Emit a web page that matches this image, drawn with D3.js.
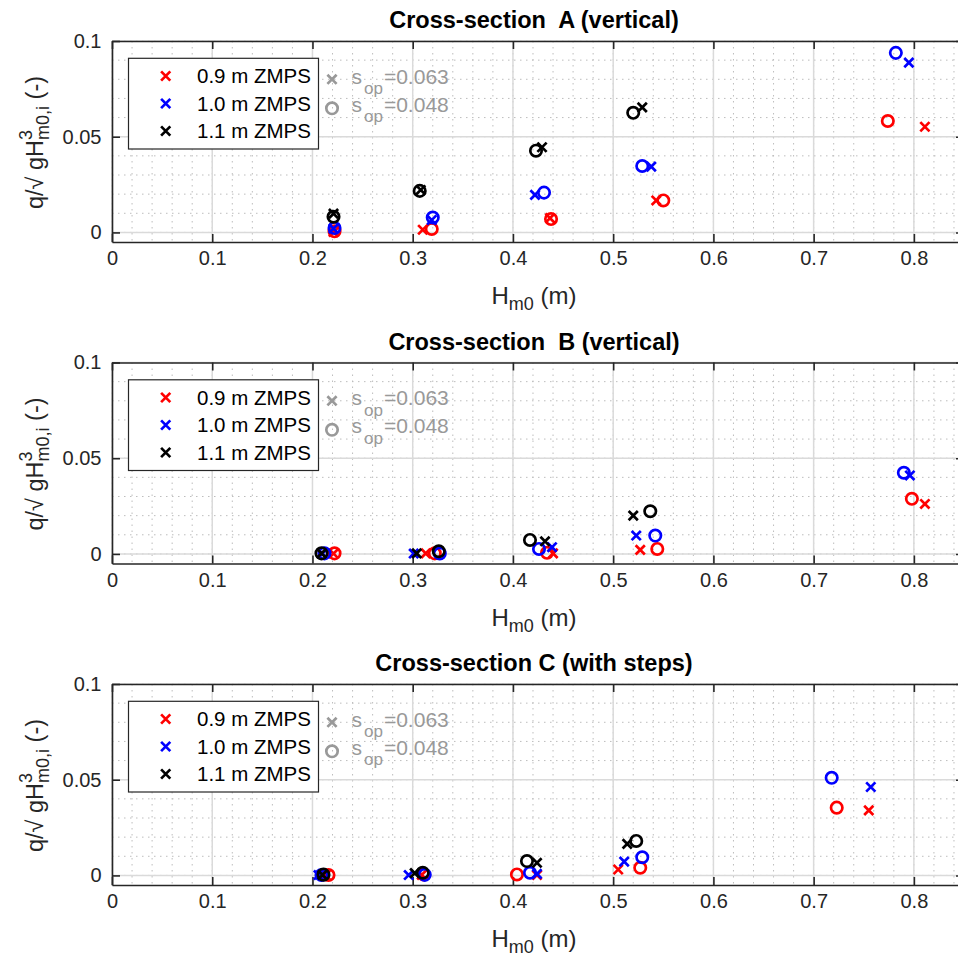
<!DOCTYPE html>
<html>
<head>
<meta charset="utf-8">
<script src="https://cdn.jsdelivr.net/npm/d3@7"></script>
<style>
body { margin: 0; background: #fff; }
text { font-family: "Liberation Sans", Arial, sans-serif; white-space: pre; }
</style>
</head>
<body>
<svg id="chart" width="958" height="960"></svg>
<script>
var panelTitles = ["Cross-section  A (vertical)", "Cross-section  B (vertical)", "Cross-section C (with steps)"];
var seriesNames = ["0.9 m ZMPS", "1.0 m ZMPS", "1.1 m ZMPS"];
var sopLabels = ["0.063", "0.048"];

var xTicks = [0, 0.1, 0.2, 0.3, 0.4, 0.5, 0.6, 0.7, 0.8];
var xTickLabels = ["0", "0.1", "0.2", "0.3", "0.4", "0.5", "0.6", "0.7", "0.8"];
var yTicks = [0, 0.05, 0.1];
var yTickLabels = ["0", "0.05", "0.1"];

// [Hm0 (m), q/sqrt(gHm0^3)] ; X = sop 0.063, O = sop 0.048
var aRedX   = [[0.221, 0.0002], [0.310, 0.0014], [0.437, 0.0075], [0.543, 0.0167], [0.811, 0.0552]];
var aRedO   = [[0.222, 0.0006], [0.319, 0.0018], [0.438, 0.0070], [0.550, 0.0167], [0.774, 0.0582]];
var aBlueX  = [[0.221, 0.0020], [0.319, 0.0065], [0.422, 0.0196], [0.538, 0.0344], [0.795, 0.0887]];
var aBlueO  = [[0.222, 0.0023], [0.320, 0.0078], [0.431, 0.0208], [0.529, 0.0347], [0.782, 0.0938]];
var aBlackX = [[0.221, 0.0098], [0.308, 0.0222], [0.429, 0.0445], [0.529, 0.0653]];
var aBlackO = [[0.221, 0.0082], [0.307, 0.0217], [0.423, 0.0427], [0.520, 0.0625]];

var bRedX   = [[0.221, 0.0002], [0.313, 0.0003], [0.440, 0.0003], [0.527, 0.0021], [0.811, 0.0261]];
var bRedO   = [[0.222, 0.0003], [0.322, 0.0003], [0.434, 0.0006], [0.544, 0.0026], [0.798, 0.0288]];
var bBlueX  = [[0.210, 0.0002], [0.301, 0.0002], [0.439, 0.0035], [0.523, 0.0096], [0.796, 0.0410]];
var bBlueO  = [[0.212, 0.0003], [0.327, 0.0002], [0.426, 0.0026], [0.542, 0.0096], [0.790, 0.0424]];
var bBlackX = [[0.209, 0.0003], [0.304, 0.0003], [0.432, 0.0066], [0.520, 0.0200]];
var bBlackO = [[0.209, 0.0003], [0.326, 0.0014], [0.417, 0.0073], [0.537, 0.0223]];

var cRedX   = [[0.213, 0.0002], [0.309, 0.0003], [0.424, 0.0002], [0.505, 0.0031], [0.755, 0.0340]];
var cRedO   = [[0.216, 0.0002], [0.311, 0.0005], [0.404, 0.0005], [0.527, 0.0040], [0.723, 0.0354]];
var cBlueX  = [[0.206, 0.0002], [0.296, 0.0002], [0.424, 0.0008], [0.511, 0.0072], [0.757, 0.0462]];
var cBlueO  = [[0.209, 0.0002], [0.312, 0.0003], [0.417, 0.0014], [0.529, 0.0095], [0.718, 0.0510]];
var cBlackX = [[0.210, 0.0003], [0.302, 0.0012], [0.424, 0.0066], [0.514, 0.0165]];
var cBlackO = [[0.211, 0.0004], [0.310, 0.0014], [0.414, 0.0075], [0.523, 0.0180]];

var panels = [
    [[aRedX, aRedO], [aBlueX, aBlueO], [aBlackX, aBlackO]],
    [[bRedX, bRedO], [bBlueX, bBlueO], [bBlackX, bBlackO]],
    [[cRedX, cRedO], [cBlueX, cBlueO], [cBlackX, cBlackO]]
];

var colors = ["#ff0000", "#0000ff", "#000000"];
var axisColor = "#262626";

var svg = d3.select("#chart"),
    left = 112,
    width = 852,
    height = 201,
    tops = [41, 362.5, 684];

var x = d3.scaleLinear().domain([0, 0.85]).range([0, width]);
var y = d3.scaleLinear().domain([-0.005, 0.1]).range([height, 0]);

var xMinor = d3.range(0, 43).map(function(i) { return i * 0.02; });
var yMinor = d3.range(0, 11).map(function(i) { return i * 0.01; });

var xPath = "M-4.6,-4.6L4.6,4.6M-4.6,4.6L4.6,-4.6";

function drawMarkers(g, pts, color, isCircle) {
    var sel = g.selectAll(null).data(pts).enter();
    if (isCircle) {
        sel.append("circle")
            .attr("cx", function(d) { return x(d[0]); })
            .attr("cy", function(d) { return y(d[1]); })
            .attr("r", 5.7)
            .attr("fill", "none")
            .attr("stroke", color)
            .attr("stroke-width", 2.7);
    } else {
        sel.append("path")
            .attr("d", xPath)
            .attr("transform", function(d) { return "translate(" + x(d[0]) + "," + y(d[1]) + ")"; })
            .attr("fill", "none")
            .attr("stroke", color)
            .attr("stroke-width", 2.7);
    }
}

panels.forEach(function(series, p) {
    var g = svg.append("g").attr("transform", "translate(" + left + "," + tops[p] + ")");

    // minor grid
    g.selectAll(".xminor").data(xMinor).enter().append("line")
        .attr("x1", function(d) { return x(d); }).attr("x2", function(d) { return x(d); })
        .attr("y1", 0).attr("y2", height)
        .attr("stroke", "#bdbdbd").attr("stroke-width", 1).attr("stroke-dasharray", "1.5,4.5");
    g.selectAll(".yminor").data(yMinor).enter().append("line")
        .attr("x1", 0).attr("x2", width)
        .attr("y1", function(d) { return y(d); }).attr("y2", function(d) { return y(d); })
        .attr("stroke", "#bdbdbd").attr("stroke-width", 1).attr("stroke-dasharray", "1.5,4.5");

    // major grid
    g.selectAll(".xmajor").data(xTicks).enter().append("line")
        .attr("x1", function(d) { return x(d); }).attr("x2", function(d) { return x(d); })
        .attr("y1", 0).attr("y2", height)
        .attr("stroke", "#dadada").attr("stroke-width", 1.5);
    g.selectAll(".ymajor").data(yTicks).enter().append("line")
        .attr("x1", 0).attr("x2", width)
        .attr("y1", function(d) { return y(d); }).attr("y2", function(d) { return y(d); })
        .attr("stroke", "#dadada").attr("stroke-width", 1.5);

    // axes, box with inward ticks
    var bottom = g.append("g").attr("transform", "translate(0," + height + ")")
        .call(d3.axisBottom(x).tickValues(xTicks).tickSizeInner(-8).tickSizeOuter(0).tickPadding(9)
            .tickFormat(function(d, i) { return xTickLabels[i]; }));
    var top = g.append("g")
        .call(d3.axisTop(x).tickValues(xTicks).tickSizeInner(-8).tickSizeOuter(0).tickFormat(""));
    var leftAx = g.append("g")
        .call(d3.axisLeft(y).tickValues(yTicks).tickSizeInner(-8).tickSizeOuter(0).tickPadding(10.5)
            .tickFormat(function(d, i) { return yTickLabels[i]; }));
    var rightAx = g.append("g").attr("transform", "translate(" + width + ",0)")
        .call(d3.axisRight(y).tickValues(yTicks).tickSizeInner(-8).tickSizeOuter(0).tickFormat(""));

    [bottom, top, leftAx, rightAx].forEach(function(a) {
        a.select(".domain").attr("stroke", axisColor).attr("stroke-width", 1.6);
        a.selectAll(".tick line").attr("stroke", axisColor).attr("stroke-width", 1.6);
        a.selectAll(".tick text").attr("fill", axisColor).style("font-size", "20px")
            .style("font-family", "'Liberation Sans', Arial, sans-serif");
    });

    // data: red, blue, black; x then o
    series.forEach(function(pair, s) {
        drawMarkers(g, pair[0], colors[s], false);
        drawMarkers(g, pair[1], colors[s], true);
    });

    // title
    g.append("text")
        .attr("x", width / 2 - 4).attr("y", -13)
        .attr("text-anchor", "middle")
        .attr("font-weight", "bold")
        .attr("font-size", 23.5)
        .attr("fill", "#000")
        .text(panelTitles[p]);

    // x label
    var xl = g.append("text")
        .attr("x", width / 2 - 4).attr("y", height + 62)
        .attr("text-anchor", "middle")
        .attr("font-size", 24)
        .attr("fill", axisColor);
    xl.append("tspan").text("H");
    xl.append("tspan").attr("font-size", 18).attr("dy", 6).text("m0");
    xl.append("tspan").attr("dy", -6).text(" (m)");

    // y label
    var yl = g.append("text")
        .attr("transform", "translate(" + (43 - left) + "," + (height / 2 + 1) + ") rotate(-90)")
        .attr("text-anchor", "middle")
        .attr("font-size", 23.5)
        .attr("fill", axisColor);
    yl.append("tspan").text("q/\u221A gH");
    yl.append("tspan").attr("font-size", 18).attr("dy", -11).text("3");
    yl.append("tspan").attr("font-size", 18).attr("dx", -10).attr("dy", 17).text("m0,i");
    yl.append("tspan").attr("dy", -6).text(" (-)");

    // legend
    var lg = g.append("g").attr("transform", "translate(" + (128.5 - left) + ",17.3)");
    lg.append("rect").attr("width", 190).attr("height", 90.7)
        .attr("fill", "#fff").attr("stroke", axisColor).attr("stroke-width", 1.2);
    seriesNames.forEach(function(name, i) {
        lg.append("path").attr("d", xPath)
            .attr("transform", "translate(37.2," + (17.7 + i * 27.5) + ")")
            .attr("fill", "none").attr("stroke", colors[i]).attr("stroke-width", 2.7);
        lg.append("text").attr("x", 68.5).attr("y", 25 + i * 27.5)
            .attr("font-size", 20.5).attr("fill", "#000").text(name);
    });

    // sop annotation
    var an = g.append("g").attr("transform", "translate(" + (332 - left) + ",0)");
    an.append("path").attr("d", xPath).attr("transform", "translate(0,38.3)")
        .attr("fill", "none").attr("stroke", "#999999").attr("stroke-width", 2.7);
    an.append("circle").attr("cx", 0).attr("cy", 67.3).attr("r", 5.7)
        .attr("fill", "none").attr("stroke", "#999999").attr("stroke-width", 2.7);
    sopLabels.forEach(function(v, i) {
        var t = an.append("text").attr("x", 19.5).attr("y", 42.5 + i * 28)
            .attr("font-size", 21).attr("fill", "#999999");
        t.append("tspan").text("s");
        t.append("tspan").attr("font-size", 17).attr("dy", 10.5).attr("dx", 2).text("op");
        t.append("tspan").attr("dy", -10.5).attr("dx", 1).text("=" + v);
    });
});
</script>
</body>
</html>
